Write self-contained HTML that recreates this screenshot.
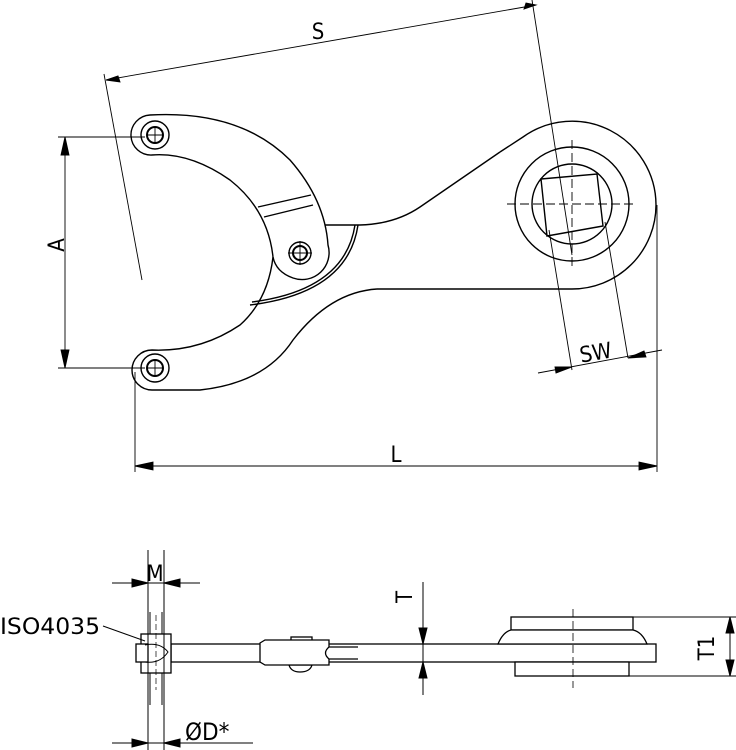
<!DOCTYPE html>
<html><head><style>
html,body{margin:0;padding:0;background:#fff;}
svg{display:block;}
text{font-family:"DejaVu Sans Condensed","Liberation Sans",sans-serif;fill:#000;}
</style></head><body>
<svg width="736" height="750" viewBox="0 0 736 750" xmlns="http://www.w3.org/2000/svg">
<g fill="none" stroke="#000" stroke-width="1.4">
<!-- head -->
<path d="M500,152 L523,137 A84,84 0 0 1 656,205 A84,84 0 0 1 572,289 L377,289"/>
<path d="M500,152 L420,207 Q395,224 360,225 L325,225"/>
<path d="M377,289 Q330,292 293,340 Q265,383 200,390 L152,390"/>
<circle cx="572" cy="204" r="57"/>
<circle cx="572" cy="204" r="40"/>
<path d="M541,179 L597,174 L603,226 L547,236 Z"/>
<!-- hook -->
<path d="M150,115 Q240,110 290,160 Q325,200 328,245 A27,27 0 0 1 293,278 Q276,272 273,257 Q268,210 230,180 Q190,152 152,155"/>
<path d="M150,115 A20,20 0 0 0 152,155"/>
<path d="M273,257 Q268,300 240,325 Q200,352 152,350 A20,20 0 0 0 152,390"/>
<path d="M258,207 L311,195 M264,217 L313,205"/>
<path d="M355,225 Q345,290 252,302 M358,225 Q348,293 250,305"/>
<circle cx="155" cy="135" r="14"/><circle cx="155" cy="135" r="8" stroke-width="2"/>
<circle cx="155" cy="368" r="14"/><circle cx="155" cy="368" r="8" stroke-width="2"/>
<circle cx="300" cy="253" r="11"/><circle cx="300" cy="253" r="7" stroke-width="2"/>
</g>
<g stroke="#000" stroke-width="0.9" fill="none">
<path d="M148,135 H162 M155,128 V142 M148,368 H162 M155,361 V375 M288,253 H312 M300,241 V265"/>
<path d="M507,204 H637 M572,140 V270" stroke-dasharray="9,4"/>
<line x1="106" y1="80" x2="536" y2="5"/>
<path d="M536,5 L524,9 L526,3Z" fill="#000"/>
<path d="M106,80 L118,76 L120,82Z" fill="#000"/>
<line x1="104" y1="74" x2="142" y2="280"/>
<line x1="532" y1="0" x2="572" y2="255"/>
<line x1="549" y1="230" x2="572" y2="370"/>
<line x1="605" y1="222" x2="628" y2="358"/>
<line x1="538" y1="373" x2="662" y2="350"/>
<path d="M572,367 L556,373 L555,367Z M628,358 L644,351 L646,357Z" fill="#000"/>
<line x1="65" y1="137" x2="65" y2="368"/>
<path d="M65,137 L61,155 L69,155Z M65,368 L61,350 L69,350Z" fill="#000"/>
<line x1="58" y1="137" x2="145" y2="137"/>
<line x1="58" y1="368" x2="145" y2="368"/>
<line x1="135" y1="466" x2="657" y2="466"/>
<path d="M135,466 L153,462 L153,470Z M657,466 L639,462 L639,470Z" fill="#000"/>
<line x1="135" y1="372" x2="135" y2="472"/>
<line x1="657" y1="205" x2="657" y2="472"/>
</g>
<text x="318" y="39" font-size="22" text-anchor="middle">S</text>
<text x="597" y="360" font-size="22" text-anchor="middle" transform="rotate(-10 597 360)">SW</text>
<text x="64" y="245" font-size="22" text-anchor="middle" transform="rotate(-90 64 245)">A</text>
<text x="396" y="462" font-size="22" text-anchor="middle">L</text>

<g fill="#fff" stroke="#000" stroke-width="1.3">
<rect x="171" y="644" width="485" height="18"/>
<rect x="511" y="617" width="122" height="13"/>
<path d="M498,644 Q503,632 511,630 L633,630 Q642,632 647,644Z"/>
<rect x="515" y="662" width="114" height="14"/>
<rect x="291" y="637" width="21" height="4"/>
<path d="M289,665 L312,665 Q310,672 300,672 Q291,672 289,665Z"/>
<path d="M260,643 L265,640 L329,640 L329,665 L265,665 L260,662Z"/>
<path d="M358,647 L329,647 Q322,653 329,659 L358,659"/>
<rect x="141" y="634" width="30" height="39"/>
<rect x="136" y="644" width="12" height="18"/>
</g>
<g stroke="#000" stroke-width="1" fill="none">
<line x1="148" y1="550" x2="148" y2="750"/>
<line x1="164" y1="550" x2="164" y2="750"/>
<path d="M150,612 V634 M162,612 V634 M150,673 V705 M162,673 V705"/>
<path d="M145,645 Q160,642 168,652 Q160,664 145,662"/>
<line x1="156" y1="615" x2="156" y2="690" stroke-dasharray="6,3" stroke-width="0.7"/>
<line x1="573" y1="609" x2="573" y2="688" stroke-dasharray="8,4" stroke-width="0.8"/>
<line x1="112" y1="583" x2="200" y2="583"/>
<path d="M148,583 L132,579 L132,587Z M164,583 L180,579 L180,587Z" fill="#000"/>
<line x1="112" y1="743" x2="253" y2="743"/>
<path d="M148,743 L132,739 L132,747Z M164,743 L180,739 L180,747Z" fill="#000"/>
<line x1="423" y1="582" x2="423" y2="695"/>
<path d="M423,644 L419,628 L427,628Z M423,662 L419,678 L427,678Z" fill="#000"/>
<line x1="633" y1="617" x2="736" y2="617"/>
<line x1="629" y1="676" x2="736" y2="676"/>
<line x1="730" y1="617" x2="730" y2="676"/>
<path d="M730,617 L726,633 L734,633Z M730,676 L726,660 L734,660Z" fill="#000"/>
<line x1="103" y1="626" x2="145" y2="641"/>
</g>
<text x="155" y="581" font-size="22" text-anchor="middle">M</text>
<text x="0" y="634" font-size="22" textLength="100" lengthAdjust="spacingAndGlyphs">ISO4035</text>
<text x="412" y="597" font-size="22" text-anchor="middle" transform="rotate(-90 412 597)">T</text>
<text x="714" y="648" font-size="22" text-anchor="middle" transform="rotate(-90 714 648)">T1</text>
<text x="185" y="740" font-size="24">ØD*</text>
</svg>
</body></html>
